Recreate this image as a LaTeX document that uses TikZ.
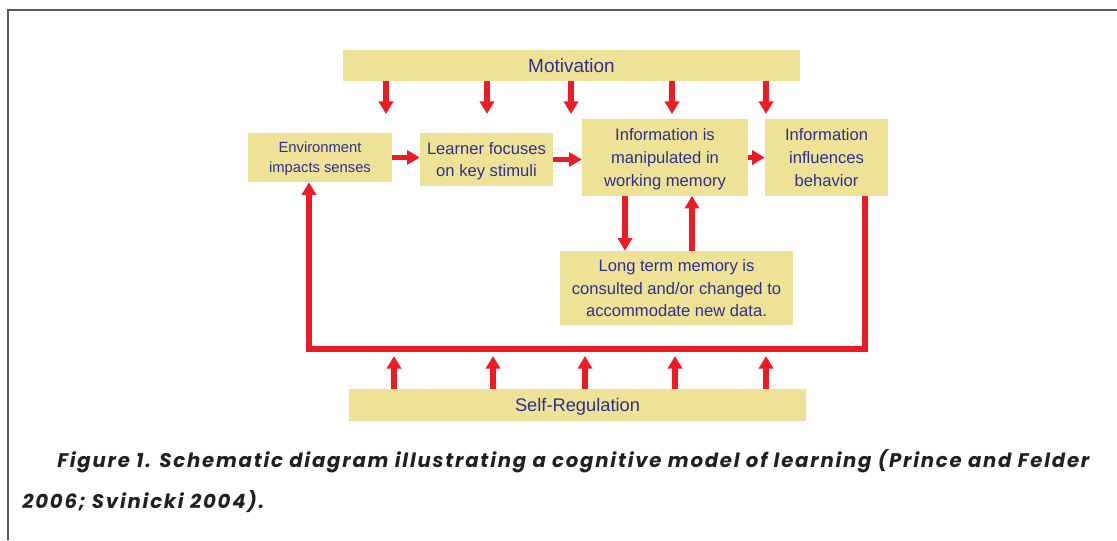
\documentclass[tikz,border=0pt]{standalone}
\usepackage{fontspec}
\setmainfont{Liberation Sans}
\newfontfamily\capfont[LetterSpace=9]{Poppins}
\usepackage{tikz}
\usetikzlibrary{arrows.meta, positioning, calc}
\definecolor{boxkhaki}{RGB}{238,226,150}
\definecolor{textblue}{RGB}{46,49,146}
\definecolor{arrowred}{RGB}{237,28,36}
\definecolor{framegrey}{RGB}{90,90,90}
\definecolor{captionblack}{RGB}{35,31,32}

\begin{document}
\begin{tikzpicture}[
  x=0.025cm, y=-0.025cm,
  box/.style={fill=boxkhaki, text=textblue, inner sep=0pt, align=center,
              text depth=-2.3pt, font=\fontsize{11.8}{16.3}\selectfont},
  arr/.style={draw=arrowred, line width=4.2pt,
              -{Triangle[width=10pt, length=9pt]}},
  captext/.style={anchor=base west, text=captionblack, inner sep=0pt,
                  font=\capfont\bfseries\itshape\fontsize{14}{16}\selectfont}
]
  \useasboundingbox (0,0) rectangle (1117,540);
  \draw[framegrey, line width=0.9pt] (8,540) -- (8,10) -- (1117,10);

  % top and bottom bands
  \node[box, minimum width=11.425cm, minimum height=0.775cm, text depth=0pt,
        font=\fontsize{13.5}{16}\selectfont] (mot) at (571.5,65.5) {Motivation};
  \node[box, minimum width=11.425cm, minimum height=0.8cm, text depth=-1pt,
        font=\fontsize{13}{16}\selectfont] (sreg) at (577.5,405) {Self-Regulation};

  % main chain
  \node[box, minimum width=3.6cm, minimum height=1.225cm, text depth=0.7pt,
        font=\fontsize{10.5}{14.2}\selectfont] (env) at (320,157.5)
    {Environment\\impacts senses};
  \node[box, minimum width=3.325cm, minimum height=1.325cm,
        font=\fontsize{11.8}{15.2}\selectfont] (lrn) at (486.5,159.5)
    {Learner focuses\\on key stimuli};
  \node[box, minimum width=4.15cm, minimum height=1.9cm] (wm) at (665,157.5)
    {Information is\\manipulated in\\working memory};
  \node[box, minimum width=3.075cm, minimum height=1.9cm] (beh) at (826.5,157.5)
    {Information\\influences\\behavior};
  \node[box, minimum width=5.825cm, minimum height=1.85cm, text depth=-2.6pt,
        font=\fontsize{11.8}{16}\selectfont] (ltm) at (676.5,288)
    {Long term memory is\\consulted and/or changed to\\accommodate new data.};

  \draw[arr] (env.east) -- (env.east -| lrn.west);
  \draw[arr] (lrn.east) -- (lrn.east -| wm.west);
  \draw[arr] (wm.east) -- (wm.east -| beh.west);

  % memory exchange
  \coordinate (dn) at (625,0);
  \coordinate (up) at (692,0);
  \draw[arr] (wm.south -| dn) -- (ltm.north -| dn);
  \draw[arr] (ltm.north -| up) -- (wm.south -| up);

  % feedback loop
  \coordinate (fbr) at (865,349);
  \coordinate (fbl) at (309,349);
  \draw[arr, line join=miter] (beh.south -| fbr) -- (fbr) -- (fbl) -- (env.south -| fbl);

  \foreach \x in {386,487,571,672,766} {
    \coordinate (mx) at (\x,114);
    \draw[arr] (mot.south -| mx) -- (mx);
  }
  \foreach \x in {394,493,585,675,766} {
    \coordinate (sx) at (\x,356);
    \draw[arr] (sreg.north -| sx) -- (sx);
  }

  \node[captext] (cap1) at (57,467)
    {Figure 1. Schematic diagram illustrating a cognitive model of learning (Prince and Felder};
  \node[captext] (cap2) at (22,508) {2006; Svinicki 2004).};
\end{tikzpicture}
\end{document}
